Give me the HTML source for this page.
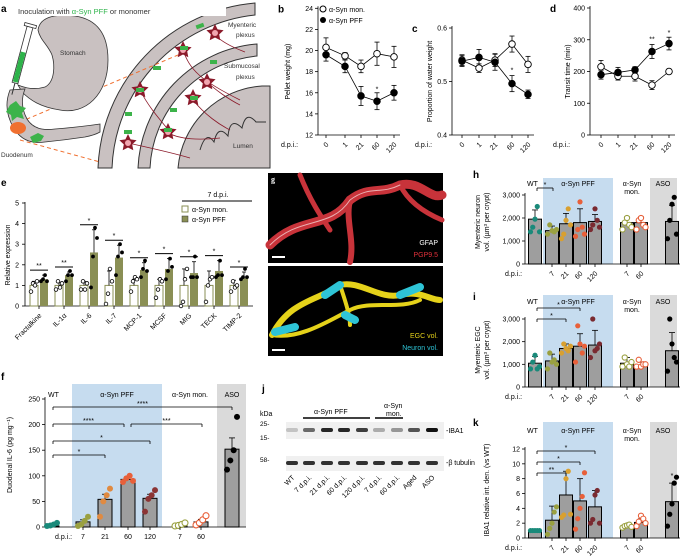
<!DOCTYPE html>
<html><head><meta charset="utf-8"><style>
html,body{margin:0;padding:0;background:#fff;}
svg{display:block;font-family:"Liberation Sans",sans-serif;}
</style></head><body>
<svg id="s" width="685" height="558" viewBox="0 0 685 558" xmlns="http://www.w3.org/2000/svg">
<defs><polygon id="star" points="0,-9 2.6,-3.6 8.6,-2.8 4.2,1.4 5.3,7.3 0,4.5 -5.3,7.3 -4.2,1.4 -8.6,-2.8 -2.6,-3.6" fill="#8b1a2a"/></defs>
<g id="pa">
<text x="1" y="12" font-size="10" font-weight="bold">a</text>
<path d="M255,3 A172,172 0 0 0 98,168 L112,168 A160,160 0 0 1 255,15 Z" fill="#c9c1c1" stroke="#333" stroke-width="1"/>
<path d="M257,44 A130,130 0 0 0 138,168 L150,168 A118,118 0 0 1 257,56 Z" fill="#c9c1c1" stroke="#333" stroke-width="1"/>
<path d="M262,86 A90,90 0 0 0 178,168 L270,168 L270,86 Z" fill="#c9c1c1" stroke="#333" stroke-width="1"/>
<path d="M200,150 q6,-20 14,-8 q4,-18 14,-6 q2,-20 14,-8 q4,-18 14,-6 l10,0" fill="none" stroke="#333" stroke-width="1"/>
<g stroke="#8b1a2a" stroke-width="0.8" fill="none">
<path d="M215,35 C225,45 240,50 245,52 M183,50 C190,70 200,80 240,100 M140,90 C150,110 165,125 170,132 M205,80 C215,90 230,100 240,105 M193,100 C205,115 220,125 230,130 M166,132 C180,140 200,140 220,138 M128,143 C160,150 180,155 190,158"/>
</g>
<g>
<use href="#star" transform="translate(215,33)"/><use href="#star" transform="translate(183,50)"/><use href="#star" transform="translate(140,90)"/><use href="#star" transform="translate(207,82)"/><use href="#star" transform="translate(193,98)"/><use href="#star" transform="translate(168,132)"/><use href="#star" transform="translate(128,143)"/>
</g>
<g fill="#f2a6b0"><circle cx="215" cy="33" r="3"/><circle cx="183" cy="50" r="3"/><circle cx="140" cy="90" r="3"/><circle cx="207" cy="82" r="3"/><circle cx="193" cy="98" r="3"/><circle cx="168" cy="132" r="3"/><circle cx="128" cy="143" r="3"/></g>
<g fill="#3cb34a">
<rect x="196" y="24" width="8" height="4" transform="rotate(-20 200 26)"/><rect x="153" y="66" width="8" height="4"/><rect x="125" y="112" width="7" height="4"/><rect x="170" y="108" width="7" height="4"/><rect x="210" y="60" width="7" height="4"/><rect x="180" y="46" width="8" height="4"/><rect x="136" y="88" width="8" height="4"/><rect x="190" y="96" width="8" height="4"/><rect x="124" y="130" width="8" height="4"/><rect x="164" y="128" width="8" height="4"/>
</g>
<text x="228" y="27" font-size="6.5" fill="#333">Myenteric</text><text x="236" y="37" font-size="6.5" fill="#333">plexus</text>
<text x="224" y="68" font-size="6.5" fill="#333">Submucosal</text><text x="236" y="79" font-size="6.5" fill="#333">plexus</text>
<text x="233" y="148" font-size="6.5" fill="#333">Lumen</text>
<line x1="20" y1="122" x2="178" y2="55" stroke="#f07030" stroke-width="1" stroke-dasharray="4,3"/>
<line x1="20" y1="140" x2="100" y2="162" stroke="#f07030" stroke-width="1" stroke-dasharray="4,3"/>
<path d="M38,30 C40,15 60,14 75,16 C95,19 108,32 108,60 C108,95 85,115 60,110 C40,107 30,100 22,92 L18,85 C25,88 35,90 45,87 C55,82 55,65 52,55 C48,45 40,40 38,30 Z" fill="#c9c1c1" stroke="#333" stroke-width="0.8"/>
<text x="60" y="55" font-size="6.5" fill="#333">Stomach</text>
<path d="M10,90 q-8,20 5,40 q10,15 30,12 q20,-2 40,-5 q10,-2 15,-5 l0,-8 q-20,3 -45,5 q-20,3 -28,-10 q-8,-15 -2,-30 Z" fill="#c9c1c1" stroke="#333" stroke-width="0.8"/>
<ellipse cx="18" cy="128" rx="8" ry="6" fill="#f07030"/>
<path d="M10,105 l6,-4 l4,5 l6,2 l-4,5 l2,6 l-7,-2 l-5,4 l-1,-6 l-5,-3Z" fill="#3cb34a"/>
<path d="M30,137 l8,-4 l6,3 l-3,5 l-8,2Z" fill="#3cb34a"/>
<text x="1" y="157" font-size="6.5" fill="#333">Duodenum</text>
<g transform="translate(30,27) rotate(15)">
<rect x="-3" y="0" width="6" height="58" fill="#fff" stroke="#333" stroke-width="0.8"/>
<rect x="-2.5" y="26" width="5" height="31" fill="#2db34a"/>
<rect x="-6" y="-3" width="12" height="3" fill="#fff" stroke="#333" stroke-width="0.8"/>
<line x1="0" y1="58" x2="0" y2="70" stroke="#333"/>
</g>
<rect x="16" y="5" width="210" height="11" fill="#fff"/>
<text x="18" y="14" font-size="7.5" fill="#333">Inoculation with <tspan fill="#2db34a">α-Syn PFF</tspan> or monomer</text>
</g>
<g id="dyn"></g>
<rect x="268" y="173" width="175" height="90" fill="#000"/>
<rect x="268" y="266" width="175" height="90" fill="#000"/>
<g fill="none" stroke-linecap="round">
<path d="M270,245 C300,215 330,230 350,200 C370,185 380,195 400,185 C420,180 430,200 442,195" stroke="#c8333a" stroke-width="9"/>
<path d="M350,200 C345,220 355,240 350,262" stroke="#c8333a" stroke-width="6"/>
<path d="M300,175 C310,200 320,215 330,230" stroke="#c8333a" stroke-width="5"/>
<path d="M400,185 C410,205 430,215 442,220" stroke="#c8333a" stroke-width="5"/>
<path d="M270,245 C300,215 330,230 350,200 C370,185 380,195 400,185" stroke="#f4d0d0" stroke-width="1" opacity="0.8"/>
<path d="M272,335 C290,300 320,300 340,285 C360,280 380,300 400,295 C420,290 430,300 440,300" stroke="#e5d21a" stroke-width="6"/>
<path d="M272,335 C300,340 330,320 350,310 C370,300 400,310 420,300" stroke="#e5d21a" stroke-width="4"/>
<path d="M340,285 C345,300 350,315 350,325" stroke="#e5d21a" stroke-width="4"/>
<path d="M275,332 l20,-5 M325,295 l15,-10 M400,295 l20,-8 M345,315 l10,5" stroke="#2ec4d6" stroke-width="8"/>
</g>
<line x1="272" y1="257" x2="285" y2="257" stroke="#fff" stroke-width="2"/>
<line x1="272" y1="350" x2="285" y2="350" stroke="#fff" stroke-width="2"/>
<text x="271" y="182" font-size="8" fill="#fff" font-weight="bold" font-family="Liberation Serif">g</text>
<text x="438" y="245" font-size="7" fill="#fff" text-anchor="end">GFAP</text>
<text x="438" y="257" font-size="7" fill="#e0303a" text-anchor="end">PGP9.5</text>
<text x="438" y="338" font-size="7" fill="#e5d21a" text-anchor="end">EGC vol.</text>
<text x="438" y="350" font-size="7" fill="#2ec4d6" text-anchor="end">Neuron vol.</text>
<text x="262" y="392" font-size="10" font-weight="bold">j</text>
<text x="260" y="416" font-size="7">kDa</text>
<text x="260" y="426" font-size="6.5">25-</text>
<text x="260" y="440" font-size="6.5">15-</text>
<text x="260" y="462" font-size="6.5">58-</text>
<text x="314" y="414" font-size="7">α-Syn PFF</text>
<line x1="303" y1="418" x2="370" y2="418" stroke="#000" stroke-width="1.5"/>
<text x="384" y="408" font-size="7">α-Syn</text><text x="386" y="416" font-size="7">mon.</text>
<line x1="375" y1="418" x2="403" y2="418" stroke="#000" stroke-width="1.5"/>
<rect x="286" y="422" width="158" height="17" fill="#f0f0f0"/>
<rect x="286" y="456" width="158" height="15" fill="#f0f0f0"/>
<text x="446" y="433" font-size="7">-IBA1</text>
<text x="446" y="465" font-size="7">-β tubulin</text>
<g id="j"></g>
</svg>
<script>
const S=document.getElementById('dyn');const NS='http://www.w3.org/2000/svg';
function e(t,a,txt,p){const n=document.createElementNS(NS,t);for(const k in a)n.setAttribute(k,a[k]);if(txt!==undefined)n.textContent=txt;(p||S).appendChild(n);return n;}
function L(x1,y1,x2,y2,w,c){e('line',{x1,y1,x2,y2,stroke:c||'#000','stroke-width':w||0.8});}
function T(x,y,s,fs,anc,extra){const a={x,y,'font-size':fs||7,'text-anchor':anc||'start'};Object.assign(a,extra||{});return e('text',a,s);}
function rot(x,y,s,fs,ang){return e('text',{x,y,'font-size':fs||7,'text-anchor':'end',transform:`rotate(${ang||-45} ${x} ${y})`},s);}
function lp(xa,xs,y0,y1,v0,v1,ticks,fmt,mon,pff,me,pe,title,titlex,letter){
 const Y=v=>y0+(v-v0)*(y1-y0)/(v1-v0);
 L(xa,y1-2,xa,y0);L(xa,y0,xs[4]+6,y0);
 ticks.forEach(t=>{L(xa-3,Y(t),xa,Y(t));T(xa-5,Y(t)+2.5,fmt(t),7,'end');});
 ['0','1','21','60','120'].forEach((s,i)=>{L(xs[i],y0,xs[i],y0+3);rot(xs[i]+3,y0+10,s,7);});
 T(xa-37,y0+12,'d.p.i.:',7);
 e('text',{x:titlex,y:(y0+y1)/2,'font-size':7,'text-anchor':'middle',transform:`rotate(-90 ${titlex} ${(y0+y1)/2})`},title);
 T(xa-40,y1+4,letter,10,'start',{'font-weight':'bold'});
 [[mon,me],[pff,pe]].forEach(([v,er])=>{
  let d='';v.forEach((q,i)=>{d+=(i?'L':'M')+xs[i]+','+Y(q);});
  e('path',{d,fill:'none',stroke:'#000','stroke-width':0.8});
  v.forEach((q,i)=>{L(xs[i],Y(q-er[i]),xs[i],Y(q+er[i]));L(xs[i]-2.5,Y(q-er[i]),xs[i]+2.5,Y(q-er[i]));L(xs[i]-2.5,Y(q+er[i]),xs[i]+2.5,Y(q+er[i]));});
 });
 [[mon,'#fff'],[pff,'#000']].forEach(([v,f])=>v.forEach((q,i)=>e('circle',{cx:xs[i],cy:Y(q),r:3.3,fill:f,stroke:'#000','stroke-width':0.9})));
 return Y;
}
let Yb=lp(318,[326,345,361,377,394],135,8.3,12,24,[12,14,16,18,20,22,24],t=>t,[20.3,19.5,18.5,19.7,19.4],[19.6,18.5,15.7,15.2,16.0],[0.9,0.3,0.6,1.1,1.0],[0.6,0.6,0.9,0.8,0.7],'Pellet weight (mg)',290,'b');
T(377,Yb(16.1),'*',7,'middle');
e('circle',{cx:323,cy:9,r:3,fill:'#fff',stroke:'#000'});T(329,12,'α-Syn mon.',7);
e('circle',{cx:323,cy:20,r:3,fill:'#000'});T(329,23,'α-Syn PFF',7);
let Yc=lp(452,[462,479,495,512,528],135,28,0.4,0.6,[0.4,0.5,0.6],t=>t.toFixed(1),[0.54,0.525,0.54,0.57,0.532],[0.538,0.545,0.536,0.496,0.476],[0.01,0.008,0.012,0.015,0.015],[0.01,0.015,0.015,0.015,0.008],'Proportion of water weight',432,'c');
T(512,Yc(0.517),'*',7,'middle');
let Yd=lp(590,[601,618,635,652,669],135,8,0,400,[0,100,200,300,400],t=>t,[215,185,185,157,200],[190,197,205,263,288],[20,12,15,14,8],[14,16,10,22,20],'Transit time (min)',570,'d');
T(652,Yd(295),'**',7,'middle');T(669,Yd(315),'*',7,'middle');
(function(){const y0=306,sc=20.6,Y=v=>y0-v*sc;
T(1,186,'e',10,'start',{'font-weight':'bold'});
L(25,Y(5)-1,25,y0);L(25,y0,253,y0);
for(let t=0;t<=5;t++){L(22,Y(t),25,Y(t));T(19,Y(t)+2.5,t,7,'end');}
e('text',{x:10,y:255,'font-size':7,'text-anchor':'middle',transform:'rotate(-90 10 255)'},'Relative expression');
const names=['Fractalkine','IL-1α','IL-6','IL-7','MCP-1','MCSF','MIG','TECK','TIMP-2'];
const pv=[1.3,1.5,2.6,2.35,1.75,1.8,1.6,1.7,1.35],pe=[0.2,0.15,1.1,0.6,0.35,0.5,0.55,0.5,0.3],me=[0.2,0.15,0.2,0.7,0.3,0.3,0.8,0.7,0.25];
const stars=['**','**','*','*','*','*','*','*','*'];
const md=[[0.7,1.1,1.0,1.2],[0.8,1.2,0.9,1.1],[0.8,1.2,0.8,1.1],[0.1,0.6,1.8,1.2],[0.7,1.2,1.4,1.3],[0.4,0.8,1.3,1.2],[0,0.2,1.3,1.8],[0.2,1.0,1.3,1.4],[0.7,1.2,0.9,1.0]];
const pd=[[1.2,1.3,1.5,1.2],[1.2,1.5,1.7,1.5],[0.9,2.4,3.8,3.3],[1.5,2.4,3.0,2.6],[1.4,1.8,2.2,1.7],[1.3,1.7,2.3,1.9],[1.4,1.4,2.4,1.4],[1.4,1.5,2.2,1.5],[1.3,1.4,1.8,1.4]];
names.forEach((n,i)=>{const x=30+25*i;
 e('rect',{x,y:Y(1),width:8,height:sc,fill:'#fff',stroke:'#8a8f55','stroke-width':1});
 e('rect',{x:x+10,y:Y(pv[i]),width:8,height:pv[i]*sc,fill:'#8a8f55'});
 L(x+4,Y(1),x+4,Y(1+me[i]));L(x+2,Y(1+me[i]),x+6,Y(1+me[i]));
 L(x+14,Y(pv[i]),x+14,Y(pv[i]+pe[i]));L(x+12,Y(pv[i]+pe[i]),x+16,Y(pv[i]+pe[i]));
 md[i].forEach((v,k)=>e('circle',{cx:x+1+k*2,cy:Y(v),r:1.8,fill:'#fff',stroke:'#000','stroke-width':0.8}));
 pd[i].forEach((v,k)=>e('circle',{cx:x+11+k*2,cy:Y(v),r:1.9,fill:'#000'}));
 const top=Y(Math.max(pv[i]+pe[i],1+me[i]))-5;L(x,top,x+18,top,1);T(x+9,top-2,stars[i],7,'middle');
 L(x+9,y0,x+9,y0+3);rot(x+12,y0+10,n,7);
});
T(218,197,'7 d.p.i.',7,'middle');L(182,201,252,201,1);
e('rect',{x:182,y:206,width:6,height:6,fill:'#fff',stroke:'#8a8f55'});T(192,212,'α-Syn mon.',7);
e('rect',{x:182,y:216,width:6,height:6,fill:'#8a8f55',stroke:'#333','stroke-width':0.5});T(192,222,'α-Syn PFF',7);
})();
function bp(o){const Y=v=>o.y0-(v-0)*o.sc;
 e('rect',{x:o.bx[0],y:o.btop,width:o.bx[1]-o.bx[0],height:o.y0-o.btop,fill:'#c6dcef'});
 e('rect',{x:o.gx[0],y:o.btop,width:o.gx[1]-o.gx[0],height:o.y0-o.btop,fill:'#dadada'});
 L(o.xa,Y(o.tmax)-2,o.xa,o.y0);L(o.xa,o.y0,o.xend,o.y0);
 o.ticks.forEach(t=>{L(o.xa-3,Y(t),o.xa,Y(t));T(o.xa-5,Y(t)+2.5,o.tf(t),7,'end');});
 o.pos.forEach((x,i)=>{const v=o.v[i],er=o.er[i];
  e('rect',{x:x-o.w/2,y:Y(v),width:o.w,height:v*o.sc,fill:'#9e9e9e',stroke:'#000','stroke-width':1});
  L(x,Y(v),x,Y(v+er));L(x-3,Y(v+er),x+3,Y(v+er));
  const c=o.col[i],open=o.open[i];
  o.d[i].forEach((q,k)=>e('circle',{cx:x-o.w/2+2+k*(o.w-4)/(o.d[i].length-1),cy:Y(q),r:o.r||2.8,fill:open?'#fff':c,stroke:c,'stroke-width':open?1.1:0}));
 });
 o.labs.forEach(([x,s])=>{L(x,o.y0,x,o.y0+3);if(o.rot)rot(x+3,o.y0+10,s,7);else T(x,o.y0+12,s,7,'middle');});
 T(o.dpx,o.y0+12,'d.p.i.:',7);
 o.br.forEach(([x1,x2,y,s])=>{L(x1,y+3,x1,y);L(x1,y,x2,y);L(x2,y,x2,y+3);T((x1+x2)/2,y-1,s,7,'middle');});
 return Y;}
const C={wt:'#1a8a7a',o7:'#9aa040',o21:'#d9a030',o60:'#e8603a',o120:'#7a2a30',aso:'#000'};
bp({xa:45,y0:527,sc:0.512,tmax:250,btop:384,bx:[72,162],gx:[217,246],xend:246,ticks:[0,50,100,150,200,250],tf:t=>t,w:14,r:3,
pos:[52,83,105,128,150,180,201,232],v:[2,10,54,93,56,3,10,152],er:[1,4,10,4,8,1,5,22],
col:[C.wt,C.o7,'#e08a40',C.o60,'#8b3535',C.o7,C.o60,C.aso],open:[0,0,0,0,0,1,1,0],
d:[[2,3,5,8],[2,5,12,20],[20,50,62,75],[88,95,100,90],[30,55,62,72],[2,3,5,8],[4,8,14,22],[112,130,150,215]],
labs:[[83,'7'],[105,'21'],[128,'60'],[150,'120'],[180,'7'],[201,'60']],dpx:55,
br:[[53,232,407,'****'],[53,124,424,'****'],[131,202,424,'***'],[53,150,441,'*'],[53,105,455,'*']]});
T(1,380,'f',10,'start',{'font-weight':'bold'});
T(48,397,'WT',7);T(117,397,'α-Syn PFF',7,'middle');T(190,397,'α-Syn mon.',7,'middle');T(232,397,'ASO',7,'middle');
e('text',{x:12,y:455,'font-size':7,'text-anchor':'middle',transform:'rotate(-90 12 455)'},'Duodenal IL-6 (pg mg⁻¹)');
const P=[535,552,566,580,595,627,641,672];
const colsHK=[C.wt,C.o7,C.o21,C.o60,C.o120,C.o7,C.o60,C.aso],openHK=[0,0,0,0,0,1,1,0];
const labsHK=[[552,'7'],[566,'21'],[580,'60'],[595,'120'],[627,'7'],[641,'60']];
function hdr(y){T(527,y,'WT',7);T(578,y,'α-Syn PFF',7,'middle');T(632,y,'α-Syn',7,'middle');T(632,y+8,'mon.',7,'middle');T(663,y,'ASO',7,'middle');}
const kf=t=>t===0?'0':(t/1000)+',000';
bp({xa:525,y0:264,sc:69/3000,tmax:3000,btop:178,bx:[543,613],gx:[650,677],xend:680,ticks:[0,1000,2000,3000],tf:kf,w:13,r:2.6,pos:P,
v:[1950,1450,1750,1800,1850,1800,1800,1850],er:[400,200,450,600,300,250,250,700],col:colsHK,open:openHK,
d:[[1400,1600,1950,2500,1400],[1300,1700,1450,1400,1500],[1100,1300,1900,2400,1700],[1200,1500,2700,1600,1300],[1500,1700,2400,1900,1600],[1500,1800,2000,1700,1600],[1500,1900,2000,1700,1600],[1100,1900,2600,2900,1300]],
labs:labsHK,rot:1,dpx:505,br:[[537,553,188,'*']]});
T(473,178,'h',10,'start',{'font-weight':'bold'});hdr(186);
e('text',{x:480,y:222,'font-size':7,'text-anchor':'middle',transform:'rotate(-90 480 222)'},'Myenteric neuron');
e('text',{x:489,y:222,'font-size':7,'text-anchor':'middle',transform:'rotate(-90 489 222)'},'vol. (µm³ per crypt)');
bp({xa:525,y0:387,sc:68/3000,tmax:3000,btop:295,bx:[543,613],gx:[650,677],xend:680,ticks:[0,1000,2000,3000],tf:kf,w:13,r:2.6,pos:P,
v:[1050,1150,1700,1800,1850,1050,950,1600],er:[300,300,200,550,650,250,150,800],col:colsHK,open:openHK,
d:[[800,1100,1400,800,900],[800,1500,1100,1200,1000],[1500,1900,1700,1600,1800],[1100,2700,1900,1500,1800],[1300,3000,1600,1700,1900],[900,1300,1000,900,1100],[900,1200,900,1000,1000],[700,3000,1900,1300,1100]],
labs:labsHK,rot:1,dpx:505,br:[[537,566,319,'*'],[537,580,308,'*']]});
T(473,300,'i',10,'start',{'font-weight':'bold'});hdr(304);
e('text',{x:480,y:350,'font-size':7,'text-anchor':'middle',transform:'rotate(-90 480 350)'},'Myenteric EGC');
e('text',{x:489,y:350,'font-size':7,'text-anchor':'middle',transform:'rotate(-90 489 350)'},'vol. (µm³ per crypt)');
bp({xa:525,y0:538,sc:89/12,tmax:12,btop:422,bx:[543,613],gx:[650,677],xend:680,ticks:[0,2,4,6,8,10,12],tf:t=>t,w:13,r:2.6,pos:P,
v:[1,2.4,5.8,5,4.2,1.5,2.1,4.9],er:[0.1,1.9,3.2,3,2.2,0.3,0.5,2.5],col:colsHK,open:openHK,
d:[[1,1,1,1,1],[0.5,1.3,2,3.5,4.2],[2.8,3.1,8,9,3.2],[1.2,2.6,4,5.6,8.8],[2,2.5,5.8,6.4,2],[1.4,1.6,1.7,1.8,1.5],[1.6,2.2,3,2.6,2],[1.6,3.2,4.6,7.4,8.2]],
labs:labsHK,rot:1,dpx:505,br:[[537,566,473,'**'],[537,580,462,'*'],[537,595,451,'*']]});
T(473,426,'k',10,'start',{'font-weight':'bold'});hdr(433);T(672,478,'*',7,'middle');
e('text',{x:489,y:490,'font-size':7,'text-anchor':'middle',transform:'rotate(-90 489 490)'},'IBA1 relative int. den. (vs WT)');
const J=document.getElementById('j');
const lanes=[292,309,327,344,362,379,397,414,432],ib=[0.2,0.6,0.9,0.9,0.8,0.3,0.4,0.7,1],nm=['WT','7 d.p.i.','21 d.p.i.','60 d.p.i.','120 d.p.i.','7 d.p.i.','60 d.p.i.','Aged','ASO'];
lanes.forEach((x,i)=>{e('rect',{x:x-6,y:428,width:12,height:4,rx:2,fill:'#111','fill-opacity':ib[i]},undefined,J);
 e('rect',{x:x-6,y:461,width:12,height:4,rx:2,fill:'#111','fill-opacity':0.85},undefined,J);
 e('text',{x:x+3,y:478,'font-size':7,'text-anchor':'end',transform:`rotate(-45 ${x+3} 478)`},nm[i],J);});
</script>
</body></html>
